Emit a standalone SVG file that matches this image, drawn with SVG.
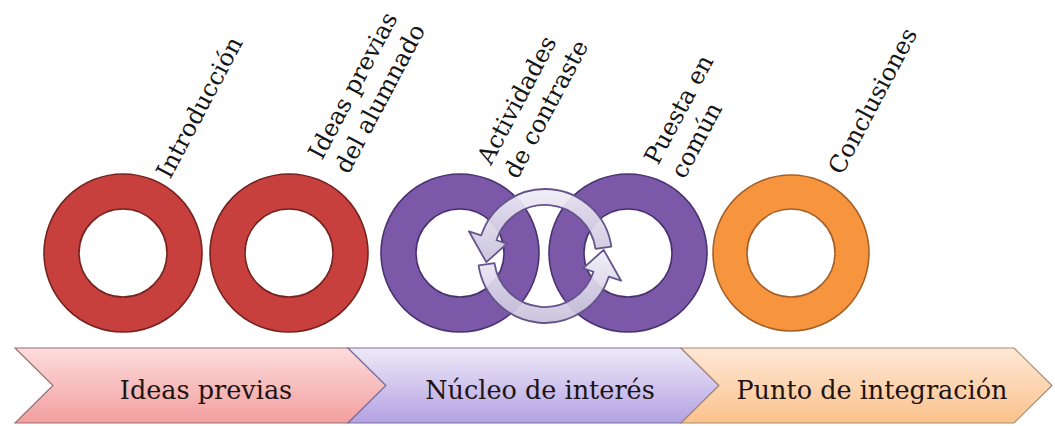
<svg xmlns="http://www.w3.org/2000/svg" width="1055" height="426" viewBox="0 0 1055 426">
  <defs>
    <linearGradient id="gPink" x1="0" y1="0" x2="0" y2="1">
      <stop offset="0" stop-color="#fddcdc"/>
      <stop offset="1" stop-color="#f29f9f"/>
    </linearGradient>
    <linearGradient id="gLav" x1="0" y1="0" x2="0" y2="1">
      <stop offset="0" stop-color="#eee9f8"/>
      <stop offset="1" stop-color="#b3a2e4"/>
    </linearGradient>
    <linearGradient id="gPeach" x1="0" y1="0" x2="0" y2="1">
      <stop offset="0" stop-color="#fee8d6"/>
      <stop offset="1" stop-color="#fbc28c"/>
    </linearGradient>
    <linearGradient id="gCycle" x1="0" y1="0" x2="0" y2="1">
      <stop offset="0" stop-color="#f0eef8"/>
      <stop offset="1" stop-color="#c6c0da"/>
    </linearGradient>
    <style>
      .ring { fill-rule: evenodd; stroke-width: 1.6; }
      .red { fill: #c8403e; stroke: #74231f; }
      .purple { fill: #7b59a8; stroke: #4a3170; }
      .orange { fill: #f7953f; stroke: #a5602a; }
      .cyc { fill: url(#gCycle); fill-opacity: 0.92; stroke: #64548c; stroke-width: 1.8; stroke-linejoin: round; }
      .chev { stroke-width: 1.2; }
      .lbl { font-family: "DejaVu Serif", "Liberation Serif", serif; font-size: 24px; fill: #151515; }
      .band { font-family: "DejaVu Serif", "Liberation Serif", serif; font-size: 25.5px; fill: #1e1414; text-anchor: middle; }
    </style>
  </defs>
  <rect width="1055" height="426" fill="#ffffff"/>

  <!-- bottom chevrons -->
  <g id="phase-ideas">
    <path class="chev" d="M15,348 L348,348 L386,385.5 L348,423 L15,423 L53,385.5 Z" fill="url(#gPink)" stroke="#9c6f74"/>
    <text class="band" x="206" y="399">Ideas previas</text>
  </g>
  <g id="phase-nucleo">
    <path class="chev" d="M348,348 L681,348 L719,385.5 L681,423 L348,423 L386,385.5 Z" fill="url(#gLav)" stroke="#7d6e9c"/>
    <text class="band" x="540" y="399">Núcleo de interés</text>
  </g>
  <g id="phase-punto">
    <path class="chev" d="M681,348 L1014,348 L1052,385.5 L1014,423 L681,423 L719,385.5 Z" fill="url(#gPeach)" stroke="#a88a70"/>
    <text class="band" x="872" y="399">Punto de integración</text>
  </g>

  <!-- rings -->
  <g id="ring-introduccion">
    <path class="ring red" d="M44,253 a79,79 0 1,0 158,0 a79,79 0 1,0 -158,0 Z M79,253 a44,44 0 1,0 88,0 a44,44 0 1,0 -88,0 Z"/>
    <text class="lbl" transform="translate(170 180) rotate(-62)"><tspan x="0" y="0">Introducción</tspan></text>
  </g>
  <g id="ring-ideas">
    <path class="ring red" d="M210,253 a79,79 0 1,0 158,0 a79,79 0 1,0 -158,0 Z M245,253 a44,44 0 1,0 88,0 a44,44 0 1,0 -88,0 Z"/>
    <text class="lbl" transform="translate(322 161) rotate(-62)"><tspan x="0" y="0">Ideas previas</tspan><tspan x="0" y="30">del alumnado</tspan></text>
  </g>
  <g id="ring-actividades">
    <path class="ring purple" d="M381,253 a79,79 0 1,0 158,0 a79,79 0 1,0 -158,0 Z M416,253 a44,44 0 1,0 88,0 a44,44 0 1,0 -88,0 Z"/>
    <text class="lbl" transform="translate(491 166) rotate(-62)"><tspan x="0" y="0">Actividades</tspan><tspan x="0" y="30">de contraste</tspan></text>
  </g>
  <g id="ring-puesta">
    <path class="ring purple" d="M549,253 a79,79 0 1,0 158,0 a79,79 0 1,0 -158,0 Z M584,253 a44,44 0 1,0 88,0 a44,44 0 1,0 -88,0 Z"/>
    <text class="lbl" transform="translate(658 166) rotate(-62)"><tspan x="0" y="0">Puesta en</tspan><tspan x="0" y="30">común</tspan></text>
  </g>
  <g id="ring-conclusiones">
    <path class="ring orange" d="M713,253 a78,78 0 1,0 156,0 a78,78 0 1,0 -156,0 Z M747,253 a44,44 0 1,0 88,0 a44,44 0 1,0 -88,0 Z"/>
    <text class="lbl" transform="translate(842 176) rotate(-62)"><tspan x="0" y="0">Conclusiones</tspan></text>
  </g>

  <!-- connectors: circular arrows between the two central rings -->
  <g id="connectors">
    <path class="cyc" d="M611.35,246.67 A67,67 0 0 0 481.28,235.30 L468.91,231.28 L486.32,262.17 L506.96,243.64 L496.49,240.24 A51,51 0 0 1 595.51,248.90 Z"/>
    <path class="cyc" d="M478.65,265.33 A67,67 0 0 0 608.72,276.70 L621.09,280.72 L603.68,249.83 L583.04,268.36 L593.51,271.76 A51,51 0 0 1 494.49,263.10 Z"/>
  </g>
</svg>
